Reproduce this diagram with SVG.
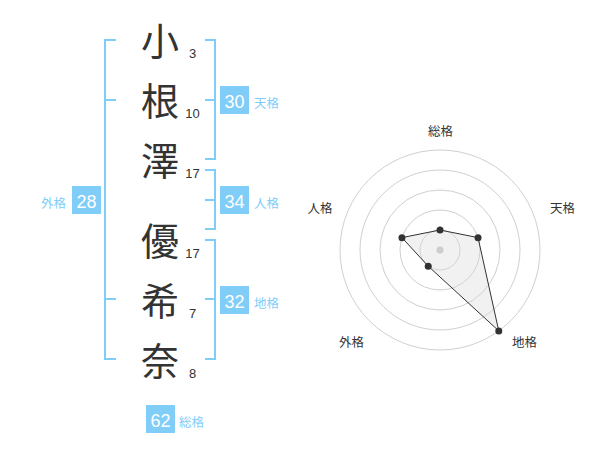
<svg xmlns="http://www.w3.org/2000/svg" width="600" height="470" viewBox="0 0 600 470">
<style>
.k{font-family:"Noto Sans CJK JP","Noto Sans CJK SC",sans-serif;font-size:38px;fill:#333;text-anchor:middle}
.s{font-family:"Liberation Sans",Arial,sans-serif;font-size:13px;fill:#333;text-anchor:middle}
.br{fill:none;stroke:#80cdf8;stroke-width:2}
.box{fill:#80cdf8}
.bn{font-family:"Liberation Sans",Arial,sans-serif;font-size:18px;fill:#fff;text-anchor:middle}
.bl{font-family:"Noto Sans CJK JP","Noto Sans CJK SC",sans-serif;font-size:12.5px;fill:#80cdf8}
.rl{font-family:"Noto Sans CJK JP","Noto Sans CJK SC",sans-serif;font-size:12.5px;fill:#333;text-anchor:middle}
.ring{fill:none;stroke:#d0d0d0;stroke-width:1}
.dot{fill:#333}
</style>
<rect width="600" height="470" fill="#fff"/>
<g id="name">
<g id="c1"><text class="k" x="160" y="55">小</text><text class="s" x="192.5" y="57.5">3</text></g>
<g id="c2"><text class="k" x="160" y="115">根</text><text class="s" x="192.5" y="117.5">10</text></g>
<g id="c3"><text class="k" x="160" y="175">澤</text><text class="s" x="192.5" y="177.5">17</text></g>
<g id="c4"><text class="k" x="160" y="255">優</text><text class="s" x="192.5" y="257.5">17</text></g>
<g id="c5"><text class="k" x="160" y="315">希</text><text class="s" x="192.5" y="317.5">7</text></g>
<g id="c6"><text class="k" x="160" y="375">奈</text><text class="s" x="192.5" y="377.5">8</text></g>
</g>
<g id="connectors">
<path class="br" d="M116,40 H105 V359 H116 M105,100 H116 M105,299 H116"/>
<path class="br" d="M205,40 H215 V159 H205 M205,100 H215"/>
<path class="br" d="M205,170 H215 V229 H205 M205,200 H215"/>
<path class="br" d="M205,240 H215 V359 H205 M205,299 H215"/>
</g>
<g id="tenkaku"><rect class="box" x="220" y="86" width="29" height="28"/><text class="bn" x="234.5" y="108">30</text><text class="bl" x="254" y="108">天格</text></g>
<g id="jinkaku"><rect class="box" x="220" y="186" width="29" height="28"/><text class="bn" x="234.5" y="208">34</text><text class="bl" x="254" y="208">人格</text></g>
<g id="chikaku"><rect class="box" x="220" y="286" width="29" height="28"/><text class="bn" x="234.5" y="308">32</text><text class="bl" x="254" y="308">地格</text></g>
<g id="gaikaku"><rect class="box" x="72" y="186" width="29" height="28"/><text class="bn" x="86.5" y="208">28</text><text class="bl" x="41" y="208">外格</text></g>
<g id="soukaku"><rect class="box" x="146" y="405" width="29" height="28"/><text class="bn" x="160.5" y="427">62</text><text class="bl" x="179" y="427">総格</text></g>
<g id="radar">
<circle class="ring" cx="440" cy="250" r="20"/>
<circle class="ring" cx="440" cy="250" r="40"/>
<circle class="ring" cx="440" cy="250" r="60"/>
<circle class="ring" cx="440" cy="250" r="80"/>
<circle class="ring" cx="440" cy="250" r="100"/>
<polygon points="440,230 478.04,237.64 498.78,330.9 428.24,266.18 401.96,237.64" fill="#d8d8d8" fill-opacity="0.35" stroke="#333" stroke-width="1"/>
<circle cx="440" cy="250" r="3.5" fill="#ccc"/>
<circle class="dot" cx="440" cy="230" r="3.5"/>
<circle class="dot" cx="478.04" cy="237.64" r="3.5"/>
<circle class="dot" cx="498.78" cy="330.9" r="3.5"/>
<circle class="dot" cx="428.24" cy="266.18" r="3.5"/>
<circle class="dot" cx="401.96" cy="237.64" r="3.5"/>
<text class="rl" x="440.5" y="135.5">総格</text>
<text class="rl" x="562.5" y="212.5">天格</text>
<text class="rl" x="320" y="212.5">人格</text>
<text class="rl" x="351.5" y="346.5">外格</text>
<text class="rl" x="524.5" y="346.5">地格</text>
</g>
</svg>
